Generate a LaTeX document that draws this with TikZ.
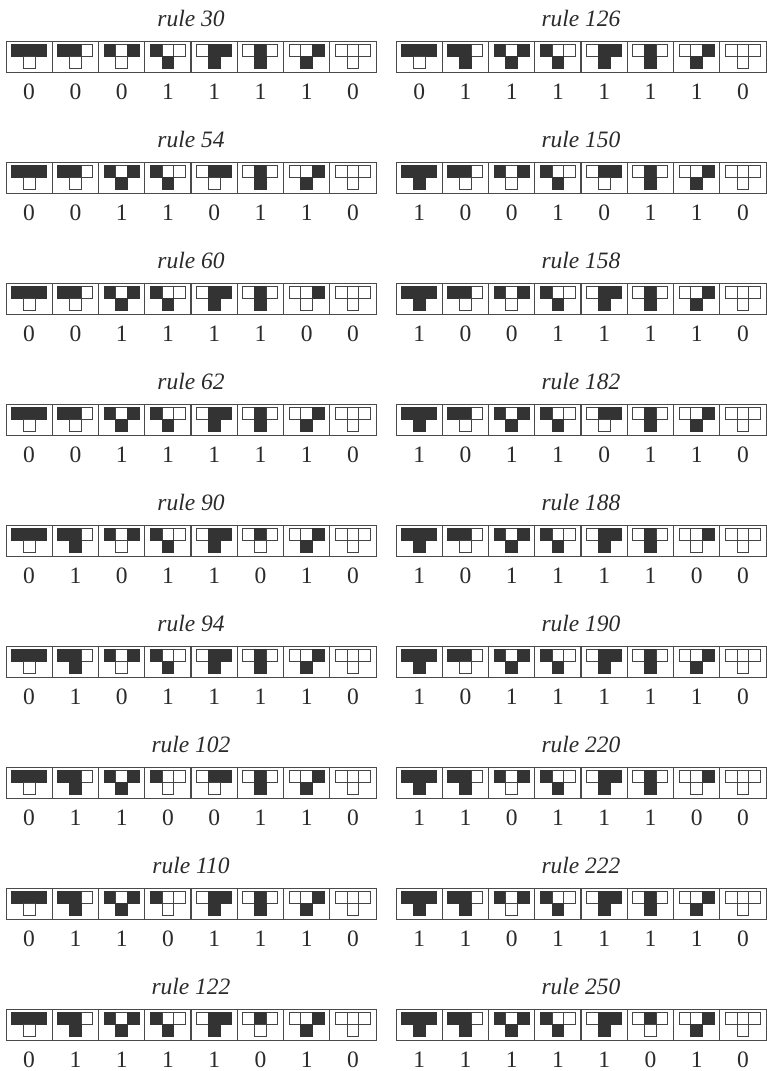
\documentclass[tikz,border=0pt]{standalone}
\usepackage{fontspec}
\setmainfont{Liberation Serif}
\definecolor{cellfill}{HTML}{333333}
\definecolor{celledge}{HTML}{444444}
\definecolor{framecol}{HTML}{4A4A4A}
\definecolor{textcol}{HTML}{2A2A2A}
\tikzset{
  cell1/.style={fill=cellfill, draw=cellfill, line width=0.7pt},
  cell0/.style={fill=white, draw=celledge, line width=0.9pt},
  frame/.style={draw=framecol, line width=1pt},
  sepline/.style={draw=framecol, line width=1.3pt},
  title/.style={font=\fontsize{23.5}{28}\selectfont\itshape, text=textcol, anchor=base, inner sep=0pt},
  digit/.style={font=\fontsize{23.5}{28}\selectfont, text=textcol, anchor=base, inner sep=0pt}
}
\begin{document}
\begin{tikzpicture}[x=1pt,y=-1pt]
\useasboundingbox (0,0) rectangle (766,1071);
\def\cw{46.25}
\def\sq{11.7}
\foreach \r [count=\k from 0] in {30,54,60,62,90,94,102,110,122,126,150,158,182,188,190,220,222,250} {
  \pgfmathtruncatemacro{\col}{int(\k/9)}
  \pgfmathtruncatemacro{\row}{mod(\k,9)}
  \pgfmathsetmacro{\xo}{6+390*\col}
  \pgfmathsetmacro{\yo}{41+121*\row}
  \node[title] (t\r) at (\xo+185,\yo-15) {rule \r};
  \draw[frame] (\xo,\yo) rectangle (\xo+370,\yo+31);
  \foreach \j in {1,...,7} {
    \draw[sepline] (\xo+\j*\cw,\yo) -- (\xo+\j*\cw,\yo+31);
  }
  \foreach \j in {0,...,7} {
    \pgfmathtruncatemacro{\n}{7-\j}
    \pgfmathtruncatemacro{\a}{int(\n/4)}
    \pgfmathtruncatemacro{\b}{mod(int(\n/2),2)}
    \pgfmathtruncatemacro{\c}{mod(\n,2)}
    \pgfmathtruncatemacro{\o}{mod(int(\r/pow(2,\n)),2)}
    \pgfmathsetmacro{\cx}{\xo+(\j+0.5)*\cw}
    \pgfmathsetmacro{\ty}{\yo+3.6}
    \draw[cell\a] (\cx-1.5*\sq,\ty) rectangle (\cx-0.5*\sq,\ty+\sq);
    \draw[cell\b] (\cx-0.5*\sq,\ty) rectangle (\cx+0.5*\sq,\ty+\sq);
    \draw[cell\c] (\cx+0.5*\sq,\ty) rectangle (\cx+1.5*\sq,\ty+\sq);
    \draw[cell\o] (\cx-0.5*\sq,\ty+\sq) rectangle (\cx+0.5*\sq,\ty+2*\sq);
    \node[digit] (d\r-\j) at (\cx,\yo+58) {\o};
  }
}
\end{tikzpicture}
\end{document}
